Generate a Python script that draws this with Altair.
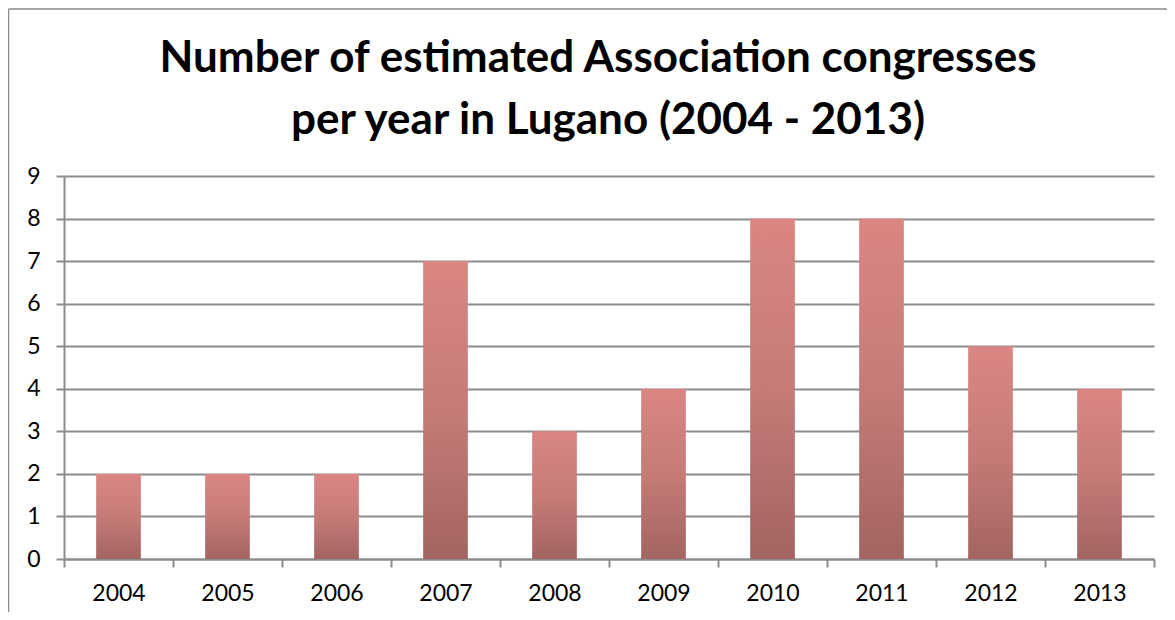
import altair as alt
import pandas as pd

years = ["2004", "2005", "2006", "2007", "2008", "2009", "2010", "2011", "2012", "2013"]
congresses = [2, 2, 2, 7, 3, 4, 8, 8, 5, 4]
y_ticks = [0, 1, 2, 3, 4, 5, 6, 7, 8, 9]
title_line1 = "Number of estimated Association congresses"
title_line2 = "per year in Lugano (2004 - 2013)"

df = pd.DataFrame({"year": years, "value": congresses})
one = pd.DataFrame({"k": [0]})

W, H = 1090, 383
FONT = "Lato"
GRID = "#8c8c8c"

bars = alt.Chart(df).mark_bar(
    width=alt.RelativeBandSize(0.41),
    color=alt.LinearGradient(
        gradient="linear",
        stops=[alt.GradientStop(color="#DA8683", offset=0),
               alt.GradientStop(color="#C67B78", offset=0.5),
               alt.GradientStop(color="#A36461", offset=1)],
        x1=0, x2=0, y1=0, y2=1,
    ),
).encode(
    x=alt.X("year:N", sort=years, title=None,
            scale=alt.Scale(paddingInner=0, paddingOuter=0),
            axis=alt.Axis(labelAngle=0, tickBand="extent", ticks=True, tickSize=8,
                          tickColor=GRID, tickWidth=2, domainColor=GRID, domainWidth=2,
                          labelFont=FONT, labelFontSize=23, labelColor="#000000",
                          labelPadding=15, grid=False)),
    y=alt.Y("value:Q", title=None,
            scale=alt.Scale(domain=[0, 9], nice=False),
            axis=alt.Axis(values=y_ticks, tickSize=8, tickColor=GRID, tickWidth=2,
                          domainColor=GRID, domainWidth=2, gridColor=GRID, gridWidth=2,
                          labelFont=FONT, labelFontSize=23, labelColor="#000000",
                          labelPadding=16)),
)

border_left = alt.Chart(one).mark_rule(color="#8a8a8a", strokeWidth=1.5).encode(
    x=alt.value(-55.5), y=alt.value(-167), y2=alt.value(H + 60)
)
border_top = alt.Chart(one).mark_rule(color="#8a8a8a", strokeWidth=1.5).encode(
    x=alt.value(-55.5), x2=alt.value(W + 40), y=alt.value(-167)
)

title_style = dict(font=FONT, fontSize=44, fontWeight="bold", color="#000000",
                   align="center", baseline="alphabetic")
t1 = alt.Chart(one).mark_text(**title_style).encode(
    x=alt.value(534), y=alt.value(-104), text=alt.value(title_line1)
)
t2 = alt.Chart(one).mark_text(**title_style).encode(
    x=alt.value(544), y=alt.value(-42), text=alt.value(title_line2)
)

chart = alt.layer(border_left, border_top, t1, t2, bars).properties(
    width=W, height=H,
    autosize=alt.AutoSizeParams(type="none"),
    padding={"left": 56, "top": 168, "right": 13, "bottom": 53},
).configure_view(stroke=None)

chart.save("out.html", embed_options={"renderer": "svg", "actions": False})
